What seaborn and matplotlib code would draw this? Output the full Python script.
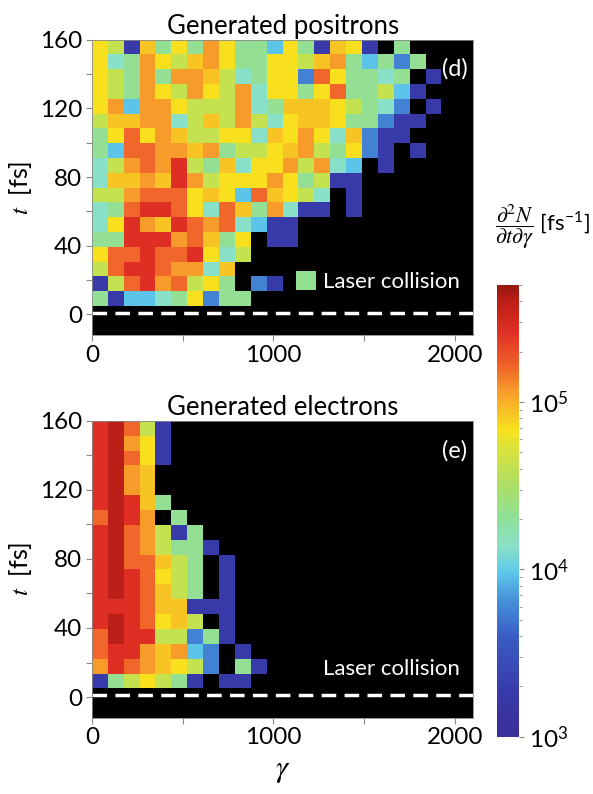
import numpy as np
import pandas as pd
import matplotlib
matplotlib.use("Agg")
import matplotlib.pyplot as plt
import seaborn as sns
from matplotlib.colors import LinearSegmentedColormap, LogNorm
from matplotlib.patches import Patch

# colour code -> log10(d2N / dt dgamma) ('.' = empty bin)
LEVELS = {"B": 3.27, "b": 3.75, "c": 3.97, "t": 4.13, "g": 4.32, "y": 4.62,
          "Y": 4.84, "o": 4.93, "O": 5.06, "r": 5.21, "R": 5.42, "D": 5.60}

# one string per time bin, from t = 160 fs (top) down to t = 5 fs,
# one character per gamma bin from gamma = 0 to 2100
positrons = [
    "YyBogYgOYggcYgBoYB.g....",
    "YtgOYyoOYggYYyoOgcgbg...",
    "YygOgOOoytgYYbrYggtg.B..",
    "YygOYyOYyOtYYgYrggycB...",
    "YOcOOYyyyOtgoooYygtb.B..",
    "yooOOtyoyOytYooYggbBB...",
    "gYrYOoyyYYtoYOYtobBB....",
    "gcrrOOoOgyyYoOygYbB.B...",
    "tyOrORygotYYOyOtc.B.....",
    "tooOoROyYYYOYgyBB.......",
    "yyOrrrYoYcroYyt.B.......",
    "tgrRRrYtrogOtBB.B.......",
    "tYROoRrOrtcBB...........",
    "ggRRROrogY.BB...........",
    "YrrRrrRYty..............",
    "yrRRrOOto...............",
    "ByrROryYg.bB............",
    "gBcctgYbgg..............",
]

electrons = [
    "RDryB...................",
    "RDOYB...................",
    "RDrYB...................",
    "RDOo....................",
    "RDOo....................",
    "RDRog...................",
    "rDRO.g..................",
    "RDrOyBg.................",
    "RDrOyggB................",
    "RDrroyg.B...............",
    "RDRrYyg.B...............",
    "RDRroyg.B...............",
    "RRRrooBBB...............",
    "RDRrYoy.B...............",
    "rDRRyybgB...............",
    "rRROoOcb.B..............",
    "ORrOoYyb.gB.............",
    "BgyYygB.BB..............",
]

panel_titles = ["Generated positrons", "Generated electrons"]
panel_tags = ["(d)", "(e)"]

GAMMA_MAX = 2100
T_LOW, T_TOP = 5, 160
COLLISION_T = 1
VMIN, VMAX = 1e3, 5e5

# colour bar (fraction of the log range, colour)
cmap = LinearSegmentedColormap.from_list("ref_jet", [
    (0.00, "#3b2f98"), (0.09, "#3838a8"), (0.22, "#3a5cc4"), (0.30, "#4690d8"),
    (0.365, "#5ec8ea"), (0.42, "#88e0c8"), (0.48, "#8fe09c"), (0.55, "#a8df6a"),
    (0.635, "#d8e23c"), (0.68, "#f8e21e"), (0.757, "#f8a42a"), (0.824, "#f0622a"),
    (0.896, "#e03024"), (0.96, "#c02018"), (1.00, "#98180f")])

plt.rcParams["font.family"] = ["Lato", "DejaVu Sans"]
plt.rcParams["mathtext.fontset"] = "stix"
plt.rcParams["font.size"] = 16


def to_frame(rows):
    n_t, n_g = len(rows), len(rows[0])
    vals = [[10 ** LEVELS[ch] if ch in LEVELS else np.nan for ch in r] for r in rows]
    g_step = GAMMA_MAX / n_g
    t_step = (T_TOP - T_LOW) / n_t
    cols = [round(g_step * (i + 0.5)) for i in range(n_g)]
    idx = [round(T_TOP - t_step * (j + 0.5), 1) for j in range(n_t)]
    return pd.DataFrame(vals, index=idx, columns=cols)


fig = plt.figure(figsize=(5.93, 7.94), dpi=100)
axes = [fig.add_axes([0.155, 0.578, 0.643, 0.372]),
        fig.add_axes([0.155, 0.096, 0.643, 0.374])]

norm = LogNorm(vmin=VMIN, vmax=VMAX)
for k, (ax, rows) in enumerate(zip(axes, [positrons, electrons])):
    df = to_frame(rows)
    n_t, n_g = df.shape
    g_step = GAMMA_MAX / n_g
    t_step = (T_TOP - T_LOW) / n_t

    def col_of(g):
        return g / g_step

    def row_of(t):
        return (T_TOP - t) / t_step

    sns.heatmap(df, ax=ax, cmap=cmap, norm=norm, cbar=False,
                xticklabels=False, yticklabels=False)
    ax.set_facecolor("black")
    ax.set_xlim(0, col_of(GAMMA_MAX))
    ax.set_ylim(row_of(-12), row_of(160))

    xt = [0, 500, 1000, 1500, 2000]
    ax.set_xticks([col_of(g) for g in xt])
    ax.set_xticklabels([str(g) if g % 1000 == 0 else "" for g in xt])
    yt = list(range(0, 161, 20))
    ax.set_yticks([row_of(t) for t in yt])
    ax.set_yticklabels([str(t) if t % 40 == 0 else "" for t in yt], rotation=0)
    ax.tick_params(direction="out", length=4, width=0.8, color="#888888",
                   labelsize=17.5, pad=3)
    for s in ax.spines.values():
        s.set_visible(True)
        s.set_color("#888888")
        s.set_linewidth(0.6)

    ax.axhline(row_of(COLLISION_T), color="white", lw=2.5, dashes=(4.2, 2.4))
    ax.set_title(panel_titles[k], fontsize=18.5, pad=4)
    ax.set_ylabel(r"$t$  [fs]", fontsize=18, labelpad=4)
    ax.set_xlabel("")
    ax.text(0.985, 0.9, panel_tags[k], color="white", fontsize=17,
            ha="right", va="center", transform=ax.transAxes)
    if k == 0:
        ax.legend(handles=[Patch(facecolor="#90e090", label="Laser collision")],
                  loc="lower right", bbox_to_anchor=(1.0, 0.1), frameon=False,
                  labelcolor="white", fontsize=16, handlelength=0.9,
                  handleheight=0.9, handletextpad=0.3, borderaxespad=0.2)
    else:
        ax.text(0.965, 0.165, "Laser collision", color="white", fontsize=16,
                ha="right", va="center", transform=ax.transAxes)

axes[1].set_xlabel(r"$\gamma$", fontsize=22, labelpad=6)

cax = fig.add_axes([0.838, 0.072, 0.037, 0.569])
cb = fig.colorbar(axes[0].collections[0], cax=cax)
cb.outline.set_visible(False)
cb.set_ticks([1e3, 1e4, 1e5])
cax.tick_params(which="both", direction="out", color="#888888", labelsize=17.5)
cax.tick_params(which="minor", length=2)
fig.text(0.915, 0.713,
         r"$\dfrac{\partial^2 N}{\partial t\partial\gamma}$ [fs$^{\mathregular{-1}}$]",
         ha="center", va="center", fontsize=16)

fig.savefig("out.png", dpi=100)
